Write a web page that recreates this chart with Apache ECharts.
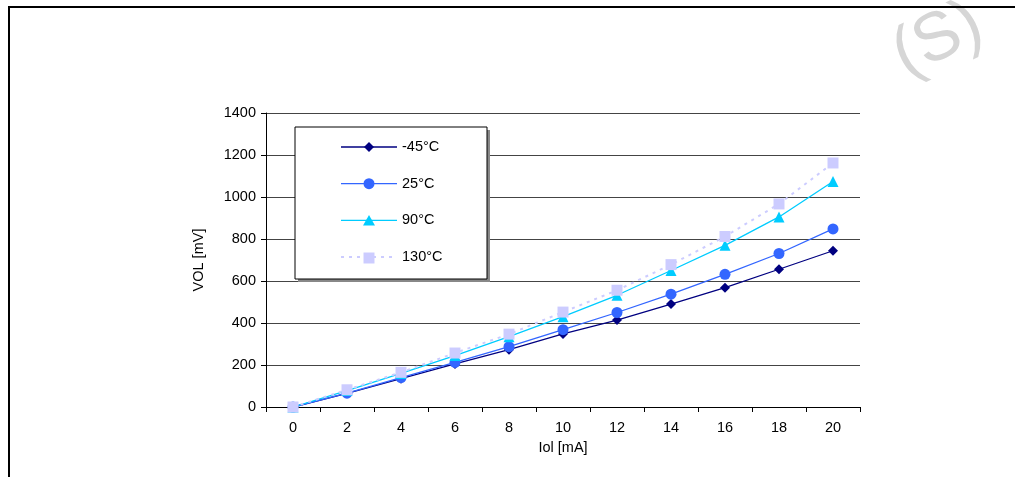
<!DOCTYPE html>
<html><head><meta charset="utf-8">
<script src="https://cdn.jsdelivr.net/npm/echarts@6/dist/echarts.min.js"></script>
<style>html,body{margin:0;padding:0;background:#fff}#c{width:1015px;height:477px}</style>
</head><body><div id="c"></div>
<script>
const categories = ['0','2','4','6','8','10','12','14','16','18','20'];
const seriesNames = ['-45°C','25°C','90°C','130°C'];
const vMinus45 = [0, 65, 135, 205, 273, 348, 414, 490, 568, 656, 744];
const v25 = [0, 66, 140, 212, 287, 368, 450, 537, 632, 731, 848];
const v90 = [0, 78, 160, 245, 335, 430, 532, 650, 770, 905, 1074];
const v130 = [0, 82, 165, 257, 347, 452, 556, 678, 812, 967, 1162];
const yTicks = [0, 200, 400, 600, 800, 1000, 1200, 1400];

const chart = echarts.init(document.getElementById('c'));
const font = 'Liberation Sans, Arial, sans-serif';
const fs = 14.5;
const colors = ['#000080', '#3366FF', '#00CCFF', '#CCCCFF'];
const symbols = ['diamond', 'circle', 'triangle', 'rect'];
const sizes = [10, 11, 11, 11];
const data = [vMinus45, v25, v90, v130];

const legendItems = [];
seriesNames.forEach((n, i) => {
  const y = 147 + i * 36.7;
  const ls = {stroke: colors[i], lineWidth: i === 3 ? 2 : 1.3};
  if (i === 3) ls.lineDash = [3, 5];
  legendItems.push({type:'line', shape:{x1:341,y1:y,x2:397,y2:y}, style: ls, z:101});
  legendItems.push({type:'text', x:402, y:y, style:{text:n, fontSize:fs, fontFamily:font, fill:'#000', verticalAlign:'middle'}, z:101});
});

chart.setOption({
  animation: false,
  textStyle: {fontFamily: font},
  grid: {left: 266, right: 155, top: 113, bottom: 70},
  xAxis: {
    type: 'category', data: categories, boundaryGap: true,
    name: 'Iol [mA]', nameLocation: 'middle', nameGap: 33,
    nameTextStyle: {fontSize: fs, color: '#000'},
    axisLine: {lineStyle: {color: '#000', width: 1}},
    axisTick: {show: true, alignWithLabel: false, length: 5, lineStyle:{color:'#000'}},
    axisLabel: {fontSize: fs, color: '#000', margin: 13},
    splitLine: {show: false}
  },
  yAxis: {
    type: 'value', min: yTicks[0], max: yTicks[yTicks.length-1], interval: 200,
    name: 'VOL [mV]', nameLocation: 'middle', nameGap: 60,
    nameTextStyle: {fontSize: fs, color: '#000'},
    axisLine: {show: true, lineStyle: {color: '#000', width: 1}},
    axisTick: {show: true, length: 5, lineStyle:{color:'#000'}},
    axisLabel: {fontSize: fs, color: '#000', margin: 10, formatter: v => String(v)},
    splitLine: {show: true, lineStyle: {color: '#444', width: 1}}
  },
  series: seriesNames.map((n, i) => ({
    name: n, type: 'line', data: data[i],
    symbol: symbols[i], symbolSize: sizes[i], showSymbol: true,
    lineStyle: {color: colors[i], width: i===3 ? 2 : 1.3, type: i===3 ? [3,5] : 'solid'},
    itemStyle: {color: colors[i]},
    z: 10 + i
  })),
  graphic: [
    {type:'group', x:938, y:40, rotation:0.45, z:0, children:[
      {type:'text', x:0, y:0, style:{text:'(S)', fontSize:68, fontFamily:font, fill:'#d6d6d6', align:'center', verticalAlign:'middle'}}
    ]},
    {type:'rect', shape:{x:9, y:7, width:1100, height:500}, style:{fill:'none', stroke:'#000', lineWidth:2}, z:1},
    {type:'rect', shape:{x:298, y:130, width:192, height:152}, style:{fill:'#888'}, z:99},
    {type:'rect', shape:{x:295, y:127, width:192, height:152}, style:{fill:'#fff', stroke:'#000', lineWidth:1}, z:100},
    ...legendItems,
    {type:'polygon', z:102, shape:{points:[[369,142],[374,147],[369,152],[364,147]]}, style:{fill:colors[0]}},
    {type:'circle', z:102, shape:{cx:369, cy:183.7, r:5.5}, style:{fill:colors[1]}},
    {type:'polygon', z:102, shape:{points:[[369,215],[375,225.5],[363,225.5]]}, style:{fill:colors[2]}},
    {type:'rect', z:102, shape:{x:363.5, y:252.5, width:11, height:11}, style:{fill:colors[3]}}
  ]
});
</script></body></html>
